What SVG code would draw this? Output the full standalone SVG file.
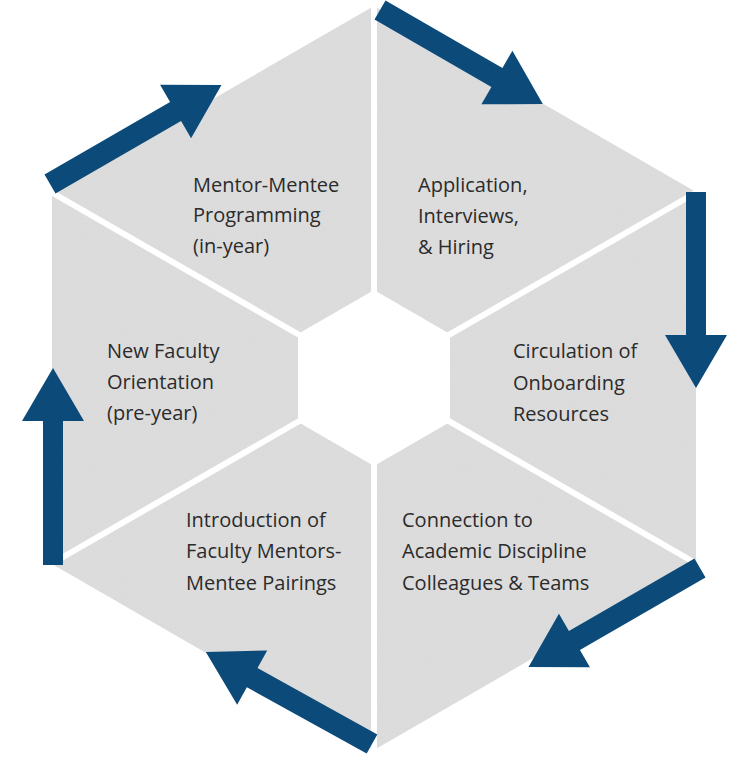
<svg xmlns="http://www.w3.org/2000/svg" width="733" height="772" viewBox="0 0 733 772">
<defs>
<filter id="noise" x="0" y="0" width="100%" height="100%">
<feTurbulence type="fractalNoise" baseFrequency="0.9" numOctaves="2" seed="3" result="n"/>
<feColorMatrix in="n" type="matrix" values="0 0 0 0 0.86  0 0 0 0 0.86  0 0 0 0 0.86  0 0 0 0.25 0" result="c"/>
<feComposite in="c" in2="SourceGraphic" operator="in" result="m"/>
<feMerge><feMergeNode in="SourceGraphic"/><feMergeNode in="m"/></feMerge>
</filter>
<style>
.seg{fill:#d9d9d9}
.gap{stroke:#fff;stroke-width:6}
.arr{fill:#0c4a7a}
text{font-family:"Open Sans","Liberation Sans",sans-serif;font-size:20px;fill:#2b2b2b}
</style>
</defs>
<rect width="733" height="772" fill="#fff"/>
<g id="hexagon" filter="url(#noise)">
<polygon class="seg" points="374,6 696,192 696,564 374,750 52,564 52,192"/>
</g>
<g id="gaps">
<line class="gap" x1="374" y1="378" x2="374" y2="0"/>
<line class="gap" x1="374" y1="378" x2="704" y2="188"/>
<line class="gap" x1="374" y1="378" x2="704" y2="568"/>
<line class="gap" x1="374" y1="378" x2="374" y2="760"/>
<line class="gap" x1="374" y1="378" x2="44" y2="568"/>
<line class="gap" x1="374" y1="378" x2="44" y2="188"/>
<polygon fill="#fff" points="374,290 450,334 450,422 374,466 298,422 298,334"/>
</g>
<g id="connectors">
<polygon class="arr" transform="translate(380,10) rotate(30)" points="0,-11 135,-11 135,-31 188,0 135,31 135,11 0,11"/>
<polygon class="arr" transform="translate(696,192) rotate(90)" points="0,-10 143,-10 143,-31 196,0 143,31 143,10 0,10"/>
<polygon class="arr" transform="translate(700,568) rotate(150)" points="0,-11 145,-11 145,-31 198,0 145,31 145,11 0,11"/>
<polygon class="arr" transform="translate(372,744) rotate(209)" points="0,-11 137,-11 137,-31 190,0 137,31 137,11 0,11"/>
<polygon class="arr" transform="translate(53,565) rotate(-90)" points="0,-10 144,-10 144,-31 197,0 144,31 144,10 0,10"/>
<polygon class="arr" transform="translate(50,184) rotate(-30)" points="0,-11 145,-11 145,-31 198,0 145,31 145,11 0,11"/>
</g>
<g id="n1"><text x="193" y="192">Mentor-Mentee</text><text x="193" y="222">Programming</text><text x="193" y="253">(in-year)</text></g>
<g id="n2"><text x="418" y="192">Application,</text><text x="418" y="223">Interviews,</text><text x="418" y="254">&amp; Hiring</text></g>
<g id="n3"><text x="513" y="358">Circulation of</text><text x="513" y="390">Onboarding</text><text x="513" y="421">Resources</text></g>
<g id="n4"><text x="402" y="527">Connection to</text><text x="402" y="558">Academic Discipline</text><text x="402" y="590">Colleagues &amp; Teams</text></g>
<g id="n5"><text x="186" y="527">Introduction of</text><text x="186" y="558">Faculty Mentors-</text><text x="186" y="590">Mentee Pairings</text></g>
<g id="n6"><text x="107" y="358">New Faculty</text><text x="107" y="389">Orientation</text><text x="107" y="420">(pre-year)</text></g>
</svg>
